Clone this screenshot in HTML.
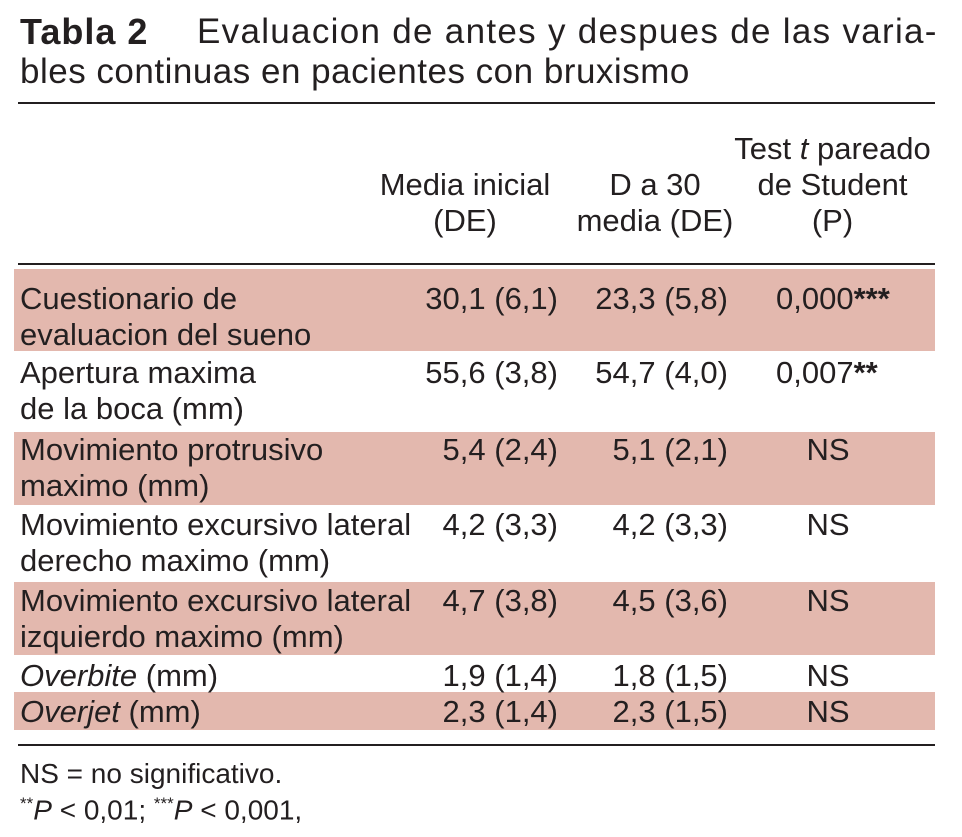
<!DOCTYPE html>
<html><head><meta charset="utf-8"><style>
body{margin:0;width:962px;height:837px;background:#fff;position:relative;overflow:hidden;font-family:"Liberation Sans",sans-serif;color:#231f20}
.a{position:absolute;white-space:nowrap;font-size:31px;line-height:36px}
.r{text-align:right}.c{text-align:center}
.band{position:absolute;left:14px;width:921px;background:#e3b8ae}
.rule{position:absolute;left:18px;width:917px;height:2px;background:#231f20}
</style></head><body>
<div class="a" style="left:20px;top:12px;font-size:36px;line-height:40px;letter-spacing:1px"><b>Tabla 2</b></div>
<div class="a" style="left:197px;top:12px;font-size:35px;line-height:40px;letter-spacing:1.3px">Evaluacion de antes y despues de las varia-</div>
<div class="a" style="left:20px;top:52px;font-size:35px;line-height:40px;letter-spacing:0.5px">bles continuas en pacientes con bruxismo</div>
<div class="rule" style="top:102px"></div>

<div class="a c" style="left:350px;width:230px;top:167px">Media inicial<br>(DE)</div>
<div class="a c" style="left:555px;width:200px;top:167px">D a 30<br>media (DE)</div>
<div class="a c" style="left:710px;width:245px;top:131px">Test <i>t</i> pareado<br>de Student<br>(P)</div>
<div class="rule" style="top:263px"></div>

<div class="band" style="top:269px;height:82px"></div>
<div class="band" style="top:432px;height:73px"></div>
<div class="band" style="top:582px;height:73px"></div>
<div class="band" style="top:692px;height:38px"></div>

<div class="a" style="left:20px;top:281px">Cuestionario de<br>evaluacion del sueno</div>
<div class="a r" style="left:380px;width:178px;top:281px">30,1 (6,1)</div>
<div class="a r" style="left:550px;width:178px;top:281px">23,3 (5,8)</div>
<div class="a" style="left:776px;top:281px">0,000<b>***</b></div>

<div class="a" style="left:20px;top:355px">Apertura maxima<br>de la boca (mm)</div>
<div class="a r" style="left:380px;width:178px;top:355px">55,6 (3,8)</div>
<div class="a r" style="left:550px;width:178px;top:355px">54,7 (4,0)</div>
<div class="a" style="left:776px;top:355px">0,007<b>**</b></div>

<div class="a" style="left:20px;top:432px">Movimiento protrusivo<br>maximo (mm)</div>
<div class="a r" style="left:380px;width:178px;top:432px">5,4 (2,4)</div>
<div class="a r" style="left:550px;width:178px;top:432px">5,1 (2,1)</div>
<div class="a c" style="left:778px;width:100px;top:432px">NS</div>

<div class="a" style="left:20px;top:507px">Movimiento excursivo lateral<br>derecho maximo (mm)</div>
<div class="a r" style="left:380px;width:178px;top:507px">4,2 (3,3)</div>
<div class="a r" style="left:550px;width:178px;top:507px">4,2 (3,3)</div>
<div class="a c" style="left:778px;width:100px;top:507px">NS</div>

<div class="a" style="left:20px;top:583px">Movimiento excursivo lateral<br>izquierdo maximo (mm)</div>
<div class="a r" style="left:380px;width:178px;top:583px">4,7 (3,8)</div>
<div class="a r" style="left:550px;width:178px;top:583px">4,5 (3,6)</div>
<div class="a c" style="left:778px;width:100px;top:583px">NS</div>

<div class="a" style="left:20px;top:658px"><i>Overbite</i> (mm)</div>
<div class="a r" style="left:380px;width:178px;top:658px">1,9 (1,4)</div>
<div class="a r" style="left:550px;width:178px;top:658px">1,8 (1,5)</div>
<div class="a c" style="left:778px;width:100px;top:658px">NS</div>

<div class="a" style="left:20px;top:694px"><i>Overjet</i> (mm)</div>
<div class="a r" style="left:380px;width:178px;top:694px">2,3 (1,4)</div>
<div class="a r" style="left:550px;width:178px;top:694px">2,3 (1,5)</div>
<div class="a c" style="left:778px;width:100px;top:694px">NS</div>

<div class="rule" style="top:744px"></div>
<div class="a" style="left:20px;top:756px;font-size:28px">NS = no significativo.</div>
<div class="a" style="left:20px;top:786px;font-size:28px"><sup style="font-size:17px">**</sup><i>P</i>&nbsp;&lt;&nbsp;0,01; <sup style="font-size:17px">***</sup><i>P</i>&nbsp;&lt;&nbsp;0,001,</div>
</body></html>
